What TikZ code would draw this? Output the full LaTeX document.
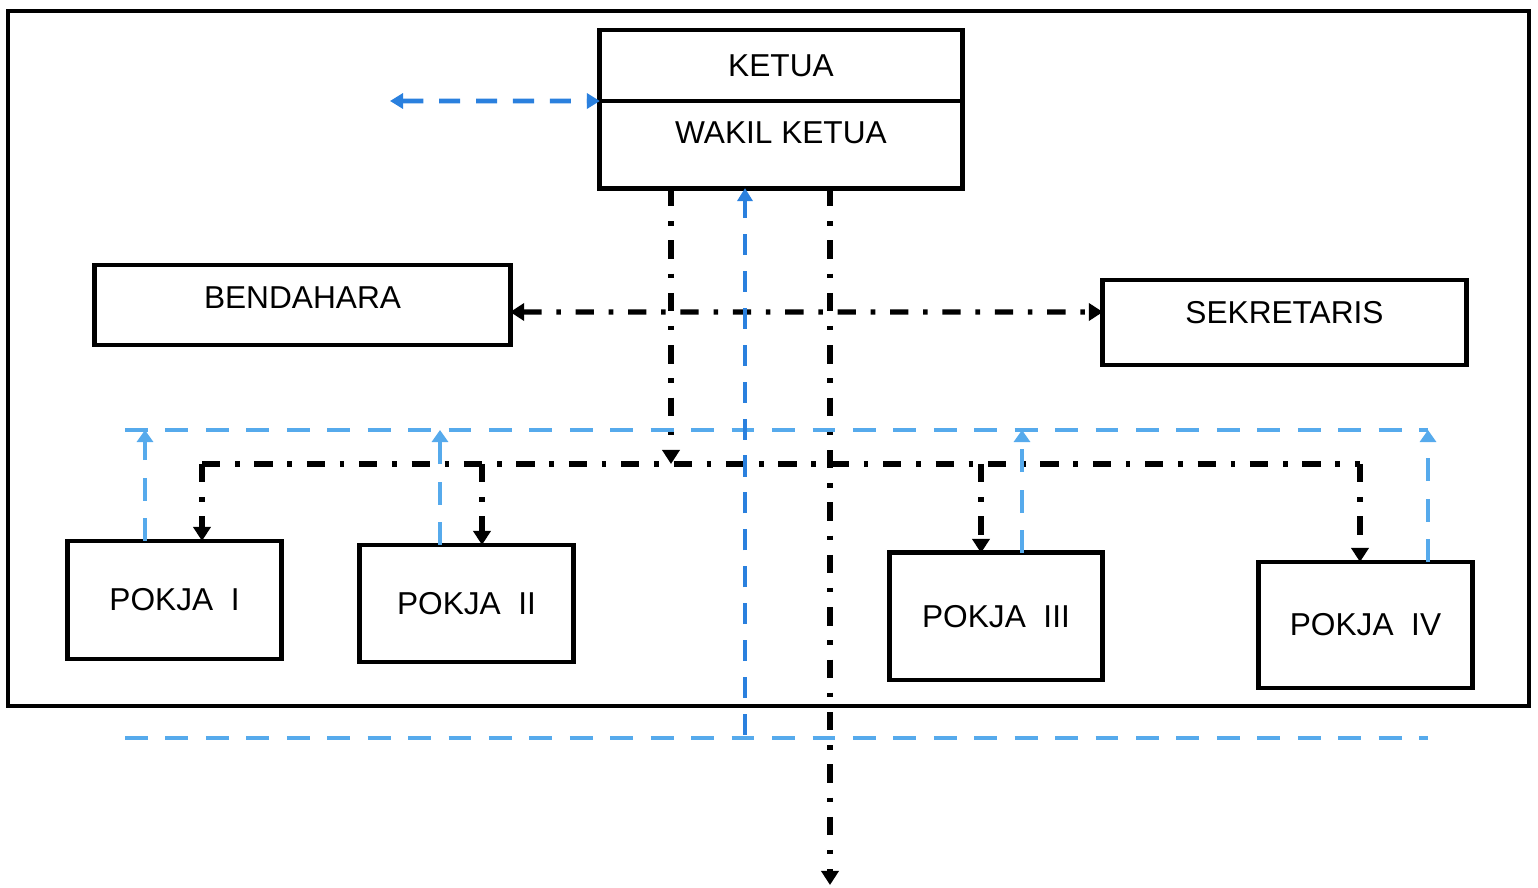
\documentclass[tikz,border=0pt]{standalone}
\usepackage{fontspec}
\setmainfont{Liberation Sans}
\usetikzlibrary{arrows.meta,positioning,calc}
\definecolor{linkblue}{RGB}{42,128,222}
\definecolor{loopblue}{RGB}{86,170,236}
\tikzstyle{box}=[rectangle,draw,line width=1.4pt,inner sep=0pt,outer sep=0pt,text centered,font=\fontsize{9}{11}\selectfont]
\tikzstyle{office}=[box,minimum width=3.62cm]
\tikzstyle{pokja}=[box,minimum width=2.13cm]
\tikzstyle{order}=[line width=1.5pt,dash pattern=on 5.2pt off 4.2pt on 1.3pt off 4.2pt]
\tikzstyle{down}=[order,-{Triangle[length=1.4mm,width=1.7mm]}]
\tikzstyle{both}=[order,{Triangle[length=1.4mm,width=1.7mm]}-{Triangle[length=1.4mm,width=1.7mm]}]
\tikzstyle{report}=[draw=loopblue,line width=1.2pt,dash pattern=on 6.5pt off 5pt]
\tikzstyle{up}=[report,-{Triangle[length=1.2mm,width=1.6mm]}]
\tikzstyle{consult}=[draw=linkblue,line width=1.4pt,dash pattern=on 6pt off 4.5pt]

\begin{document}
\begin{tikzpicture}[x=0.01cm,y=-0.01cm]

\useasboundingbox (0,0) rectangle (1538,888);
\draw [line width=1.1pt] (8,11) rectangle (1529,706);

\node (ketua) [office,minimum height=0.71cm] at (781,65.5) {KETUA};
\node (wakil) [office,minimum height=0.87cm,text depth=0.23cm,below=0pt of ketua] {WAKIL KETUA};
\node (bendahara) [box,minimum width=4.15cm,minimum height=0.8cm,text depth=0.14cm] at (302.5,305) {BENDAHARA};
\node (sekretaris) [box,minimum width=3.63cm,minimum height=0.85cm,text depth=0.21cm] at (1284.5,322.5) {SEKRETARIS};

\node (pokja1) [pokja,minimum height=1.18cm] at (174.5,600) {POKJA~~I};
\node (pokja2) [pokja,minimum height=1.17cm] at (466.5,603.5) {POKJA~~II};
\node (pokja3) [pokja,minimum height=1.27cm] at (996,616.5) {POKJA~~III};
\node (pokja4) [pokja,minimum height=1.26cm] at (1365.5,625) {POKJA~~IV};

\coordinate (side) at (390,101);
\coordinate (split) at (671,464);
\coordinate (out) at (830,885);
\coordinate (back) at (745,735);
\coordinate (top) at (125,430);
\coordinate (botl) at (125,738);
\coordinate (botr) at (1428,738);

\coordinate (d1) at ($(pokja1.north)+(27.5,0)$);
\coordinate (d2) at ($(pokja2.north)+(15.5,0)$);
\coordinate (d3) at ($(pokja3.north)+(-15,0)$);
\coordinate (d4) at ($(pokja4.north)+(-5.5,0)$);
\coordinate (u1) at ($(pokja1.north)+(-29.5,0)$);
\coordinate (u2) at ($(pokja2.north)+(-26.5,0)$);
\coordinate (u3) at ($(pokja3.north)+(26,0)$);
\coordinate (u4) at ($(pokja4.north)+(62.5,0)$);

\draw [both] ([yshift=-0.07cm]bendahara.east) -- ([yshift=0.105cm]sekretaris.west);
\draw [down] (split |- wakil.south) -- (split);
\draw [down] (out |- wakil.south) -- (out);

\draw [order] (d1 |- split) -- (d4 |- split);
\draw [down] (d1 |- split) -- (d1);
\draw [down] (d2 |- split) -- (d2);
\draw [down] (d3 |- split) -- (d3);
\draw [down] (d4 |- split) -- (d4);

\draw [report] (top) -- (u4 |- top);
\draw [up] (u1) -- (u1 |- top);
\draw [up] (u2) -- (u2 |- top);
\draw [up] (u3) -- (u3 |- top);
\draw [up] (u4) -- (u4 |- top);
\draw [report] (botl) -- (botr);

\draw [consult,{Triangle[length=1.3mm,width=1.5mm]}-{Triangle[length=1.3mm,width=1.5mm]}] (side) -- (ketua.south west);
\draw [consult,-{Triangle[length=1.3mm,width=1.5mm]}] (back) -- (back |- wakil.south);

\end{tikzpicture}
\end{document}
